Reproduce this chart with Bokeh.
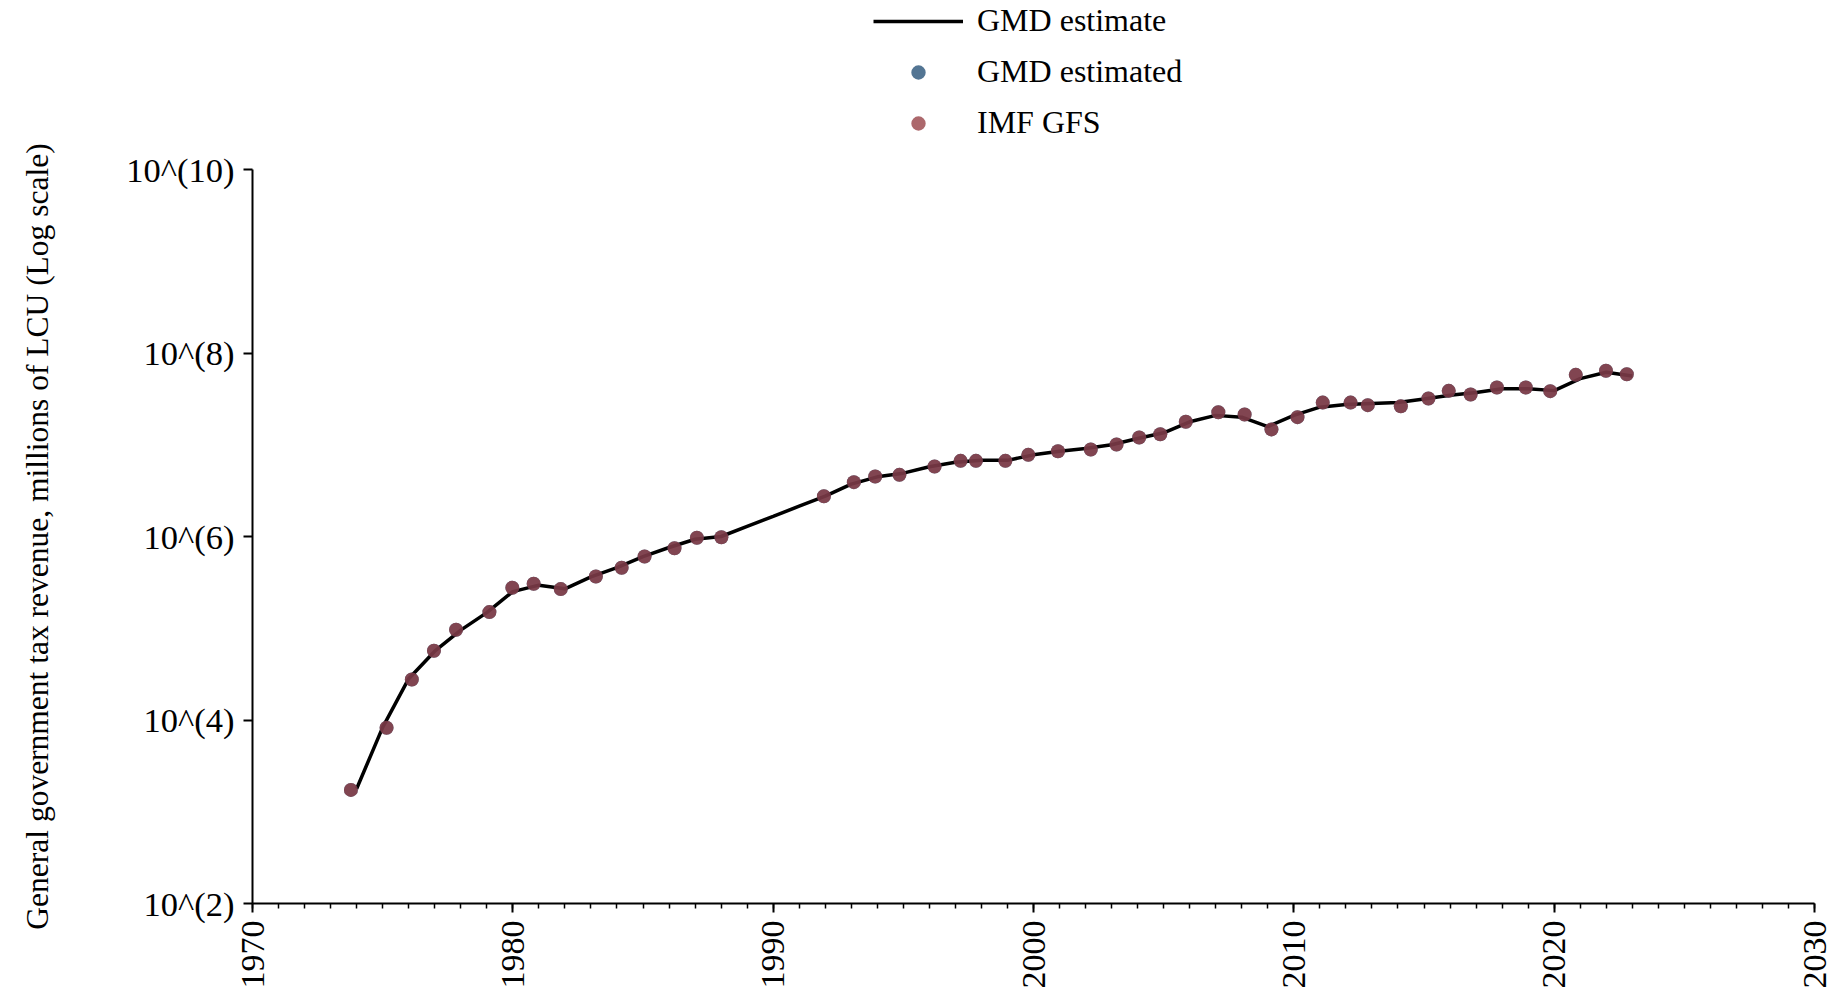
import math
from bokeh.plotting import figure
from bokeh.layouts import column
from bokeh.models import (Legend, LegendItem, SingleIntervalTicker, FixedTicker,
                          CustomJSTickFormatter, Range1d)
from bokeh.embed import file_html
from bokeh.resources import INLINE

# ---- data ----
line_year = list(range(1974, 2024))
line_value = [1.78e3, 8.32e3, 2.82e4, 5.62e4, 9.55e4, 1.48e5, 2.51e5, 2.95e5, 2.69e5, 3.63e5,
              4.57e5, 6.03e5, 7.59e5, 9.33e5, 1.00e6, 1.29e6, 1.66e6, 2.14e6, 2.75e6, 3.72e6,
              4.47e6, 4.90e6, 5.75e6, 6.46e6, 6.76e6, 6.76e6, 7.76e6, 8.51e6, 9.12e6, 1.00e7,
              1.17e7, 1.35e7, 1.78e7, 2.09e7, 2.00e7, 1.58e7, 2.09e7, 2.57e7, 2.75e7, 2.82e7,
              2.88e7, 3.16e7, 3.47e7, 3.72e7, 4.07e7, 4.07e7, 3.89e7, 5.25e7, 6.17e7, 5.62e7]

pt_year = [1973.78, 1975.15, 1976.12, 1976.97, 1977.82, 1979.10, 1979.98, 1980.80, 1981.84,
           1983.19, 1984.18, 1985.06, 1986.21, 1987.07, 1988.01, 1991.95, 1993.10, 1993.92,
           1994.85, 1996.20, 1997.20, 1997.79, 1998.92, 1999.80, 2000.94, 2002.20, 2003.19,
           2004.06, 2004.87, 2005.85, 2007.10, 2008.11, 2009.14, 2010.14, 2011.11, 2012.18,
           2012.84, 2014.11, 2015.17, 2015.95, 2016.79, 2017.80, 2018.91, 2019.85, 2020.83,
           2021.99, 2022.79]
pt_value = [1.73e3, 8.22e3, 2.76e4, 5.68e4, 9.62e4, 1.50e5, 2.76e5, 3.05e5, 2.67e5,
            3.66e5, 4.56e5, 6.05e5, 7.46e5, 9.68e5, 9.82e5, 2.75e6, 3.91e6, 4.51e6,
            4.70e6, 5.79e6, 6.68e6, 6.68e6, 6.68e6, 7.76e6, 8.51e6, 8.87e6, 1.007e7,
            1.20e7, 1.30e7, 1.78e7, 2.26e7, 2.14e7, 1.47e7, 2.00e7, 2.88e7, 2.88e7,
            2.70e7, 2.63e7, 3.19e7, 3.87e7, 3.53e7, 4.21e7, 4.21e7, 3.84e7, 5.78e7,
            6.40e7, 5.87e7]

y_ticks = [1e2, 1e4, 1e6, 1e8, 1e10]
y_label = "General government tax revenue, millions of LCU (Log scale)"
series_names = ["GMD estimate", "GMD estimated", "IMF GFS"]

FONT = "Liberation Serif"
NAVY = (26, 71, 111)
MAROON = (144, 53, 59)

# ---- legend strip (top); its series sit outside its view so only the legend shows ----
top = figure(width=1832, height=141, output_backend="svg", toolbar_location=None,
             x_axis_location=None, y_axis_location=None,
             x_range=Range1d(0, 1), y_range=Range1d(0, 1),
             min_border_left=0, min_border_right=0, min_border_top=0, min_border_bottom=0)
top.outline_line_color = None
top.xgrid.visible = False
top.ygrid.visible = False
lg_line = top.line(line_year, line_value, line_color="black", line_width=3.5)
lg_blue = top.scatter(pt_year, pt_value, size=14, fill_color=NAVY, line_color=None,
                      fill_alpha=0.75)
lg_red = top.scatter(pt_year, pt_value, size=14, fill_color=MAROON, line_color=None,
                     fill_alpha=0.75)
legend = Legend(items=[LegendItem(label=series_names[0], renderers=[lg_line]),
                       LegendItem(label=series_names[1], renderers=[lg_blue]),
                       LegendItem(label=series_names[2], renderers=[lg_red])],
                location=(621, 0), orientation="vertical",
                glyph_width=90, glyph_height=36, label_height=36, spacing=14,
                padding=0, margin=0, label_standoff=14,
                border_line_color=None, background_fill_alpha=0,
                label_text_font=FONT, label_text_font_size="32px", label_text_color="black")
top.add_layout(legend, "center")

# ---- main chart ----
p = figure(width=1832, height=859, output_backend="svg", toolbar_location=None,
           y_axis_type="log", x_range=Range1d(1970, 2030), y_range=Range1d(1e2, 1e10),
           min_border_left=252, min_border_right=18, min_border_top=28, min_border_bottom=97)
p.outline_line_color = None
p.xgrid.visible = False
p.ygrid.visible = False

p.line(line_year, line_value, line_color="black", line_width=3.5)
p.scatter(pt_year, pt_value, size=14, fill_color=NAVY, line_color=None, fill_alpha=0.75)
p.scatter(pt_year, pt_value, size=14, fill_color=MAROON, line_color=None, fill_alpha=0.75)

xa = p.xaxis[0]
xa.ticker = SingleIntervalTicker(interval=10, num_minor_ticks=10)
xa.axis_line_width = 2
xa.axis_line_color = "black"
xa.major_tick_line_width = 2
xa.major_tick_out = 9
xa.major_tick_in = 0
xa.minor_tick_line_width = 1.5
xa.minor_tick_out = 5
xa.minor_tick_in = 0
xa.major_label_orientation = math.pi / 2
xa.major_label_text_font = FONT
xa.major_label_text_font_size = "34px"
xa.major_label_text_color = "black"
xa.major_label_standoff = 8

ya = p.yaxis[0]
ya.ticker = FixedTicker(ticks=y_ticks)
ya.formatter = CustomJSTickFormatter(code="return '10^(' + Math.round(Math.log10(tick)) + ')';")
ya.axis_line_width = 2
ya.axis_line_color = "black"
ya.major_tick_line_width = 2
ya.major_tick_out = 9
ya.major_tick_in = 0
ya.minor_tick_line_color = None
ya.major_label_text_font = FONT
ya.major_label_text_font_size = "34.5px"
ya.major_label_text_color = "black"
ya.major_label_standoff = 9
ya.axis_label = y_label
ya.axis_label_text_font = FONT
ya.axis_label_text_font_size = "31.5px"
ya.axis_label_text_font_style = "normal"
ya.axis_label_text_color = "black"
ya.axis_label_standoff = 68

layout = column(top, p, spacing=0)
open("out.html", "w").write(file_html(layout, INLINE))
